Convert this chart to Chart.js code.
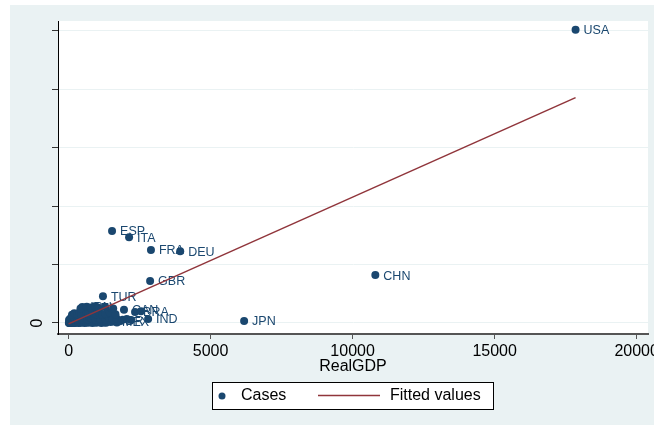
<!DOCTYPE html>
<html><head><meta charset="utf-8">
<script src="https://cdn.jsdelivr.net/npm/chart.js@4/dist/chart.umd.min.js"></script>
<style>html,body{margin:0;padding:0;background:#fff;}canvas{display:block;}</style>
</head><body>
<canvas id="c" width="654" height="425"></canvas>
<script>
// ---- data ----
const countryCodes = ['USA','CHN','JPN','DEU','FRA','GBR','IND','BRA','ITA','CAN','MEX','ESP','KOR','TUR','BEL','IRN',
  '','','','','','','','','','','','','','','','','','','','','','','','','','','','','','',
  '','','','','','','','','','','','','','','','','','','','','','','','','','','','',
  '','','','','','','','','','','','','','','',
  '','','','','','',''];
const realGDP = [17850,10800,6180,3930,2900,2870,2800,2340,2130,1950,1600,1530,1400,1210,560,480,
  10,25,40,60,85,110,140,170,200,240,280,320,360,400,450,500,560,620,690,760,830,900,980,1060,1150,1250,1320,1480,1700,1800,
  15,50,90,130,180,220,270,310,360,410,470,530,600,660,730,800,870,950,1030,1120,1220,1300,1420,1550,1680,1900,2050,2200,
  120,200,300,380,450,620,700,850,960,1080,1180,1300,1450,1650,2550,
  420,640,780,920,1050,1300,1570];
const cases = [1004,164,7,246,250,144,14,38,294,45,5,315,9,92,52,55,
  0,1,0,2,1,0,3,1,0,2,1,4,0,2,1,3,0,2,1,4,0,2,1,3,0,2,1,3,2,6,
  10,14,18,12,20,15,24,11,19,22,13,17,25,12,20,16,23,11,18,14,21,12,17,13,16,11,14,10,
  28,33,30,36,29,38,32,35,30,34,28,31,36,30,40,
  50,56,53,57,52,54,50];
const fitGDP = [0, 17850];
const fitCases = [-3, 772];
const xTickValues = [0, 5000, 10000, 15000, 20000];
const yTickValues = [0, 200, 400, 600, 800, 1000];
const yTickLabels = ['0', '', '', '', '', ''];
const seriesNames = ['Cases', 'Fitted values'];
const xTitle = 'RealGDP';

const NAVY = '#1a476f', MAROON = '#90353b', BG = '#eaf2f3';
const FONT = '"Liberation Sans", Arial, Helvetica, sans-serif';
const SCATTER_INDEX = 1;

const scatterData = realGDP.map((g, i) => ({x: g, y: cases[i]}));
const fitData = fitGDP.map((g, i) => ({x: g, y: fitCases[i]}));

const decor = {
  id: 'decor',
  beforeDraw(chart) {
    const {ctx, chartArea: a} = chart;
    ctx.save();
    ctx.fillStyle = '#fff';
    ctx.fillRect(0, 0, chart.width, chart.height);
    ctx.fillStyle = BG;
    ctx.fillRect(10, 5, chart.width - 10, chart.height - 5);
    ctx.fillStyle = '#fff';
    ctx.fillRect(a.left, a.top, a.right - a.left, a.bottom - a.top);
    ctx.restore();
  },
  afterDatasetDraw(chart, args) {
    if (args.index !== SCATTER_INDEX) return;
    const {ctx} = chart;
    const meta = chart.getDatasetMeta(SCATTER_INDEX);
    ctx.save();
    ctx.font = '12.5px ' + FONT;
    ctx.fillStyle = NAVY;
    ctx.textBaseline = 'middle';
    ctx.textAlign = 'left';
    meta.data.forEach((pt, i) => {
      if (countryCodes[i]) ctx.fillText(countryCodes[i], pt.x + 8, pt.y + 1);
    });
    ctx.restore();
  },
  afterDraw(chart) {
    const {ctx} = chart;
    const ys = chart.scales.y;
    ctx.save();
    ctx.fillStyle = '#000';
    ctx.font = '16px ' + FONT;
    yTickValues.forEach((v, i) => {
      if (!yTickLabels[i]) return;
      ctx.save();
      ctx.translate(38, ys.getPixelForValue(v));
      ctx.rotate(-Math.PI / 2);
      ctx.textAlign = 'center';
      ctx.textBaseline = 'middle';
      ctx.fillText(yTickLabels[i], 0, 0);
      ctx.restore();
    });
    ctx.textAlign = 'center';
    ctx.textBaseline = 'middle';
    ctx.fillText(xTitle, (chart.chartArea.left + chart.chartArea.right) / 2, 367);
    // legend
    ctx.fillStyle = '#fff';
    ctx.fillRect(212, 382, 281, 27);
    ctx.strokeStyle = '#000';
    ctx.lineWidth = 1;
    ctx.strokeRect(212.5, 382.5, 281, 27);
    ctx.fillStyle = NAVY;
    ctx.beginPath();
    ctx.arc(222, 396, 3.5, 0, Math.PI * 2);
    ctx.fill();
    ctx.strokeStyle = MAROON;
    ctx.lineWidth = 1.5;
    ctx.beginPath();
    ctx.moveTo(318, 395.5);
    ctx.lineTo(380, 395.5);
    ctx.stroke();
    ctx.fillStyle = '#000';
    ctx.textAlign = 'left';
    ctx.fillText(seriesNames[0], 241, 396);
    ctx.fillText(seriesNames[1], 390, 396);
    ctx.restore();
  }
};

new Chart(document.getElementById('c'), {
  type: 'scatter',
  data: {
    datasets: [
      {label: seriesNames[1], type: 'line', data: fitData, borderColor: MAROON, borderWidth: 1.5,
       pointRadius: 0, fill: false, tension: 0, order: 0},
      {label: seriesNames[0], data: scatterData, backgroundColor: NAVY, borderWidth: 0,
       pointRadius: 4, pointHoverRadius: 4, order: 1}
    ]
  },
  options: {
    responsive: false,
    animation: false,
    devicePixelRatio: 1,
    layout: {padding: {left: 0, top: 21, right: 6, bottom: 0}},
    plugins: {legend: {display: false}, tooltip: {enabled: false}},
    scales: {
      x: {
        type: 'linear', min: -373, max: 20400,
        afterBuildTicks: s => { s.ticks = xTickValues.map(v => ({value: v})); },
        afterFit: s => { s.height = 91; s.paddingLeft = 0; s.paddingRight = 0; },
        ticks: {callback: v => String(v), color: '#000', font: {size: 16, family: FONT}, padding: 3, autoSkip: false, maxRotation: 0},
        grid: {drawOnChartArea: false, drawTicks: true, tickLength: 5, tickColor: '#555', tickWidth: 1},
        border: {display: true, color: '#555', width: 2},
        title: {display: false}
      },
      y: {
        type: 'linear', min: -37.7, max: 1034.2,
        afterBuildTicks: s => { s.ticks = yTickValues.map(v => ({value: v})); },
        afterFit: s => { s.width = 58; s.paddingTop = 0; s.paddingBottom = 0; },
        ticks: {callback: () => '', font: {size: 16, family: FONT}},
        grid: {color: BG, lineWidth: 1, drawTicks: true, tickLength: 6, tickColor: '#333', tickWidth: 1},
        border: {display: true, color: '#000', width: 1}
      }
    }
  },
  plugins: [decor]
});
</script>
</body></html>
